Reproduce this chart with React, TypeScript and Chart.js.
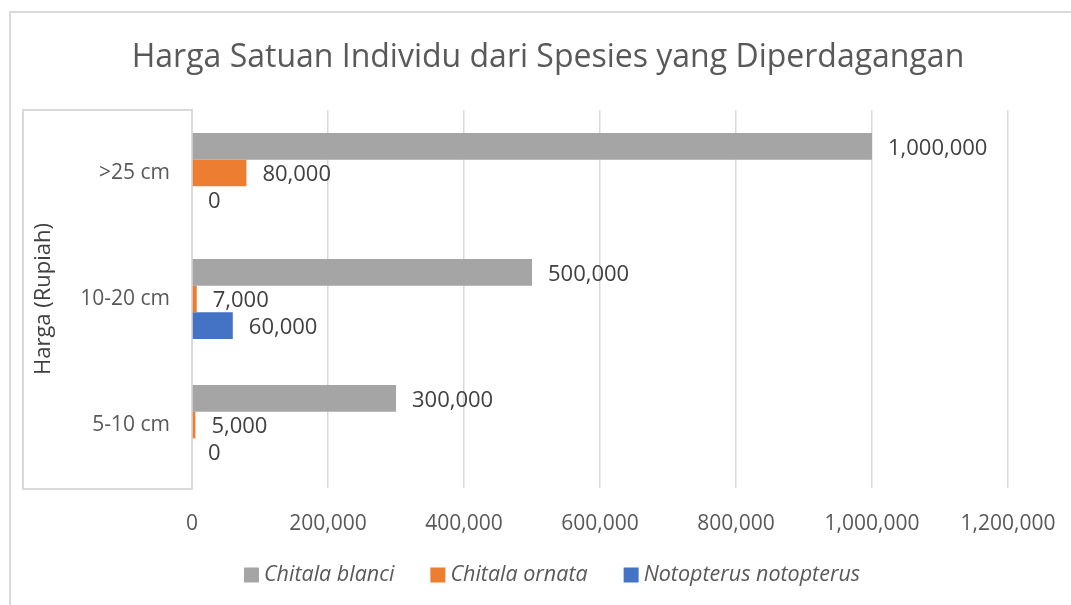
import React, { useEffect, useRef } from "react";
import { Chart, registerables } from "chart.js";

Chart.register(...registerables);

const chartTitle = "Harga Satuan Individu dari Spesies yang Diperdagangan";
const yAxisTitle = "Harga (Rupiah)";
const categories = [">25 cm", "10-20 cm", "5-10 cm"];
const seriesNames = ["Chitala blanci", "Chitala ornata", "Notopterus notopterus"];
const chitalaBlanci = [1000000, 500000, 300000];
const chitalaOrnata = [80000, 7000, 5000];
const notopterusNotopterus = [0, 60000, 0];
const seriesColors = ["#a5a5a5", "#ed7d31", "#4472c4"];
const xMin = 0;
const xMax = 1200000;
const xStep = 200000;

const FONT = "'Open Sans', sans-serif";
const fmt = (v: number) => Number(v).toLocaleString("en-US");

const decorPlugin = {
  id: "decor",
  beforeDraw(chart: any) {
    const ctx = chart.ctx;
    const ca = chart.chartArea;
    ctx.save();
    ctx.fillStyle = "#ffffff";
    ctx.fillRect(0, 0, chart.width, chart.height);
    ctx.strokeStyle = "#d9d9d9";
    ctx.lineWidth = 2;
    // outer frame
    ctx.strokeRect(10, 12, chart.width + 20, chart.height + 20);
    // left box framing the category axis
    ctx.strokeRect(23, ca.top, ca.left - 23, ca.bottom + 1 - ca.top);
    // title
    ctx.fillStyle = "#595959";
    ctx.font = `32px ${FONT}`;
    ctx.textAlign = "center";
    ctx.textBaseline = "middle";
    ctx.fillText(chartTitle, 548, 58);
    // y axis title
    ctx.save();
    ctx.translate(44, (ca.top + ca.bottom) / 2);
    ctx.rotate(-Math.PI / 2);
    ctx.font = `22px ${FONT}`;
    ctx.fillStyle = "#404040";
    ctx.fillText(yAxisTitle, 0, 0);
    ctx.restore();
    ctx.restore();
  },
  afterDatasetsDraw(chart: any) {
    const ctx = chart.ctx;
    ctx.save();
    ctx.font = `22px ${FONT}`;
    ctx.fillStyle = "#404040";
    ctx.textAlign = "left";
    ctx.textBaseline = "middle";
    chart.data.datasets.forEach((ds: any, i: number) => {
      const meta = chart.getDatasetMeta(i);
      meta.data.forEach((el: any, j: number) => {
        ctx.fillText(fmt(ds.data[j]), el.x + 16, el.y + 2);
      });
    });
    // legend
    ctx.font = `italic 21.5px ${FONT}`;
    ctx.textBaseline = "middle";
    const box = 15;
    const gapBoxText = 5;
    const gapItems = 36;
    const widths = chart.data.datasets.map((ds: any) => ctx.measureText(ds.label).width);
    const total = widths.reduce((a: number, w: number) => a + box + gapBoxText + w, 0) + gapItems * (widths.length - 1);
    let x = 552 - total / 2;
    const y = 575;
    chart.data.datasets.forEach((ds: any, i: number) => {
      ctx.fillStyle = ds.backgroundColor;
      ctx.fillRect(x, y - box / 2, box, box);
      ctx.fillStyle = "#595959";
      ctx.fillText(ds.label, x + box + gapBoxText, y);
      x += box + gapBoxText + widths[i] + gapItems;
    });
    ctx.restore();
  },
};

export default function App() {
  const ref = useRef<HTMLCanvasElement>(null);
  useEffect(() => {
    if (!ref.current) return;
    const seriesData = [chitalaBlanci, chitalaOrnata, notopterusNotopterus];
    const chart = new Chart(ref.current, {
      type: "bar",
      data: {
        labels: categories,
        datasets: seriesNames.map((name, i) => ({
          label: name,
          data: seriesData[i],
          backgroundColor: seriesColors[i],
          borderWidth: 0,
          categoryPercentage: 0.635,
          barPercentage: 1,
        })),
      },
      options: {
        indexAxis: "y",
        animation: false,
        responsive: false,
        devicePixelRatio: 1,
        layout: { padding: { top: 110, right: 63, bottom: 0, left: 0 } },
        plugins: {
          legend: { display: false },
          title: { display: false },
          tooltip: { enabled: false },
        },
        scales: {
          x: {
            min: xMin,
            max: xMax,
            afterFit: (s: any) => {
              s.height = 117;
              s.paddingRight = 0;
              s.paddingLeft = 0;
            },
            ticks: {
              stepSize: xStep,
              callback: (v: any) => fmt(v),
              font: { family: FONT, size: 21 },
              color: "#595959",
              padding: 23,
              maxRotation: 0,
            },
            grid: { color: "#d9d9d9", lineWidth: 1.5, drawTicks: false },
            border: { display: false },
          },
          y: {
            afterFit: (s: any) => {
              s.width = 192;
            },
            ticks: {
              font: { family: FONT, size: 21 },
              color: "#595959",
              padding: 22,
            },
            grid: { display: false, drawTicks: false },
            border: { display: false },
          },
        },
      },
      plugins: [decorPlugin],
    });
    return () => chart.destroy();
  }, []);
  return (
    <div style={{ position: "fixed", left: 0, top: 0, width: 1071, height: 605, background: "#fff" }}>
      <canvas ref={ref} width={1071} height={605} style={{ display: "block" }} />
    </div>
  );
}
